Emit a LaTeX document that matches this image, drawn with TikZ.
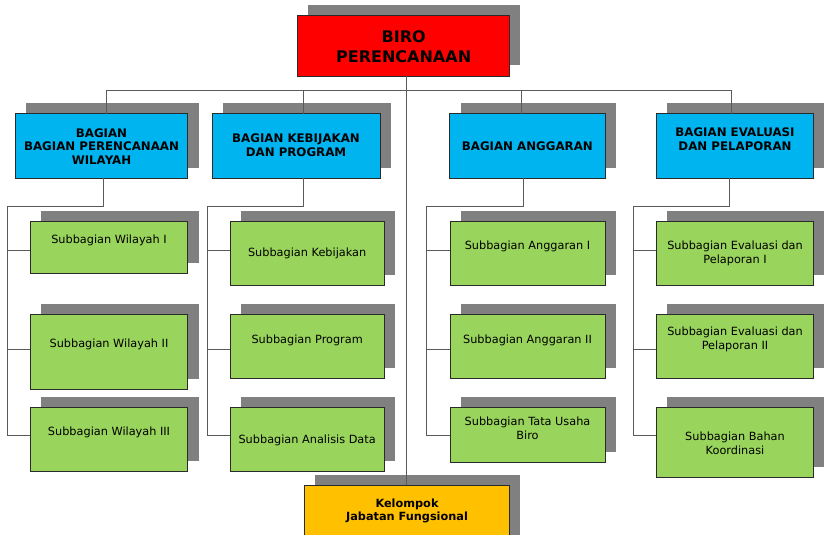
\documentclass[tikz,border=0pt]{standalone}
\usepackage{fontspec}
\setmainfont{DejaVu Sans}
\usetikzlibrary{shadows,calc}
\definecolor{cred}{HTML}{FF0000}
\definecolor{cblue}{HTML}{00B4F0}
\definecolor{cgreen}{HTML}{99D45C}
\definecolor{cyellow}{HTML}{FFC000}
\definecolor{cshadow}{HTML}{808080}
\definecolor{cline}{HTML}{5A5A5A}
\definecolor{cborder}{HTML}{2A2A2A}
\tikzset{
  box/.style={rectangle, draw=cborder, line width=0.9pt, anchor=north west,
    inner sep=0pt, outer sep=0pt,
    drop shadow={shadow xshift=11pt, shadow yshift=10.5pt, fill=cshadow, opacity=1}},
  topbox/.style={box, fill=cred},
  headbox/.style={box, fill=cblue},
  subbox/.style={box, fill=cgreen},
  kelbox/.style={box, fill=cyellow},
  titletxt/.style={font=\bfseries\fontsize{16}{20}\selectfont, align=center, inner sep=0pt},
  headtxt/.style={font=\bfseries\fontsize{11.8}{13.7}\selectfont, align=center, inner sep=0pt},
  subtxt/.style={font=\fontsize{11.3}{14}\selectfont, align=center, inner sep=0pt},
  keltxt/.style={font=\bfseries\fontsize{11.3}{13.7}\selectfont, align=center, inner sep=0pt},
  conn/.style={draw=cline, line width=1pt}
}
\begin{document}
\begin{tikzpicture}[x=1pt,y=-1pt]
\useasboundingbox (0,0) rectangle (824,535);
\clip (0,0) rectangle (824,535);
\fill[white] (0,0) rectangle (824,535);

% top
\node[topbox, minimum width=212.3pt, minimum height=60.3pt] (top) at (297,15.7) {};
\node[titletxt] (toptxt) at ($(top.center)+(0.5,1)$) {BIRO\\PERENCANAAN};

% bagian
\node[headbox, minimum width=172.4pt, minimum height=64.6pt] (b1) at (15.3,113.7) {};
\node[headbox, minimum width=168pt, minimum height=64.6pt] (b2) at (212,113.7) {};
\node[headbox, minimum width=155.3pt, minimum height=64.6pt] (b3) at (449.7,113.7) {};
\node[headbox, minimum width=157.4pt, minimum height=64.6pt] (b4) at (656.3,113.7) {};
\node[headtxt] (b1t) at ($(b1.center)+(0,0.5)$) {BAGIAN\\BAGIAN PERENCANAAN\\WILAYAH};
\node[headtxt] (b2t) at ($(b2.center)+(0,-1)$) {BAGIAN KEBIJAKAN\\DAN PROGRAM};
\node[headtxt] (b3t) at ($(b3.center)+(0,0.5)$) {BAGIAN ANGGARAN};
\node[headtxt] (b4t) at ($(b4.center)+(0,-7)$) {BAGIAN EVALUASI\\DAN PELAPORAN};

% column 1
\node[subbox, minimum width=157.4pt, minimum height=51.6pt] (w1) at (30.3,221.7) {};
\node[subbox, minimum width=157.4pt, minimum height=74.3pt] (w2) at (30.3,314.7) {};
\node[subbox, minimum width=157.4pt, minimum height=64.4pt] (w3) at (30.3,407.3) {};
\node[subtxt] (w1t) at ($(w1.center)+(0,-6.8)$) {Subbagian Wilayah I};
\node[subtxt] (w2t) at ($(w2.center)+(0,-7)$) {Subbagian Wilayah II};
\node[subtxt] (w3t) at ($(w3.center)+(0,-6.8)$) {Subbagian Wilayah III};

% column 2
\node[subbox, minimum width=154.3pt, minimum height=63.6pt] (keb) at (230,221.7) {};
\node[subbox, minimum width=154.3pt, minimum height=63.6pt] (prog) at (230,314.7) {};
\node[subbox, minimum width=154.3pt, minimum height=64.4pt] (anal) at (230,407.3) {};
\node[subtxt] (kebt) at ($(keb.center)+(0,0)$) {Subbagian Kebijakan};
\node[subtxt] (progt) at ($(prog.center)+(0,-6.5)$) {Subbagian Program};
\node[subtxt] (analt) at ($(anal.center)+(0,0.5)$) {Subbagian Analisis Data};

% column 3
\node[subbox, minimum width=155pt, minimum height=63.6pt] (ang1) at (450,221.7) {};
\node[subbox, minimum width=155pt, minimum height=63.6pt] (ang2) at (450,314.7) {};
\node[subbox, minimum width=155pt, minimum height=55.4pt] (tu) at (450,407.3) {};
\node[subtxt] (ang1t) at ($(ang1.center)+(0,-6.8)$) {Subbagian Anggaran I};
\node[subtxt] (ang2t) at ($(ang2.center)+(0,-6.5)$) {Subbagian Anggaran II};
\node[subtxt] (tut) at ($(tu.center)+(0,-6.7)$) {Subbagian Tata Usaha\\Biro};

% column 4
\node[subbox, minimum width=157.4pt, minimum height=63.6pt] (ev1) at (656.3,221.7) {};
\node[subbox, minimum width=157.4pt, minimum height=63.6pt] (ev2) at (656.3,314.7) {};
\node[subbox, minimum width=157.4pt, minimum height=70pt] (bah) at (656.3,407.3) {};
\node[subtxt] (ev1t) at ($(ev1.center)+(0,0.2)$) {Subbagian Evaluasi dan\\Pelaporan I};
\node[subtxt] (ev2t) at ($(ev2.center)+(0,-6.8)$) {Subbagian Evaluasi dan\\Pelaporan II};
\node[subtxt] (baht) at ($(bah.center)+(0,0.7)$) {Subbagian Bahan\\Koordinasi};

% kelompok
\node[kelbox, minimum width=205.3pt, minimum height=70pt] (kel) at (304,485.3) {};
\node[keltxt] (kelt) at (407,511) {Kelompok\\Jabatan Fungsional};

% connectors
\coordinate (bus) at (406.7,90.7);
\draw[conn] (kel.north) -- (kel.north |- top.south);
\draw[conn] ([xshift=5.2pt]b1.north) |- (bus);
\draw[conn] ([xshift=-3.3pt]b4.north) |- (bus);
\draw[conn] ([xshift=7.3pt]b2.north) -- ([xshift=7.3pt]b2.north |- bus);
\draw[conn] ([xshift=-5.6pt]b3.north) -- ([xshift=-5.6pt]b3.north |- bus);

\coordinate (k1) at (7.3,206.7);
\coordinate (k2) at (207,206.7);
\coordinate (k3) at (426.7,206.7);
\coordinate (k4) at (633,206.7);
\coordinate (r1) at (0,250);
\coordinate (r2) at (0,349);
\coordinate (r3) at (0,435.7);

\draw[conn] ([xshift=1.8pt]b1.south) |- (k1) -- (k1 |- r3) -- (w3.west |- r3);
\draw[conn] (k1 |- r1) -- (w1.west |- r1);
\draw[conn] (k1 |- r2) -- (w2.west |- r2);

\draw[conn] ([xshift=7pt]b2.south) |- (k2) -- (k2 |- r3) -- (anal.west |- r3);
\draw[conn] (k2 |- r1) -- (keb.west |- r1);
\draw[conn] (k2 |- r2) -- (prog.west |- r2);

\draw[conn] ([xshift=-4.3pt]b3.south) |- (k3) -- (k3 |- r3) -- (tu.west |- r3);
\draw[conn] (k3 |- r1) -- (ang1.west |- r1);
\draw[conn] (k3 |- r2) -- (ang2.west |- r2);

\draw[conn] ([xshift=-5.7pt]b4.south) |- (k4) -- (k4 |- r3) -- (bah.west |- r3);
\draw[conn] (k4 |- r1) -- (ev1.west |- r1);
\draw[conn] (k4 |- r2) -- (ev2.west |- r2);
\end{tikzpicture}
\end{document}
